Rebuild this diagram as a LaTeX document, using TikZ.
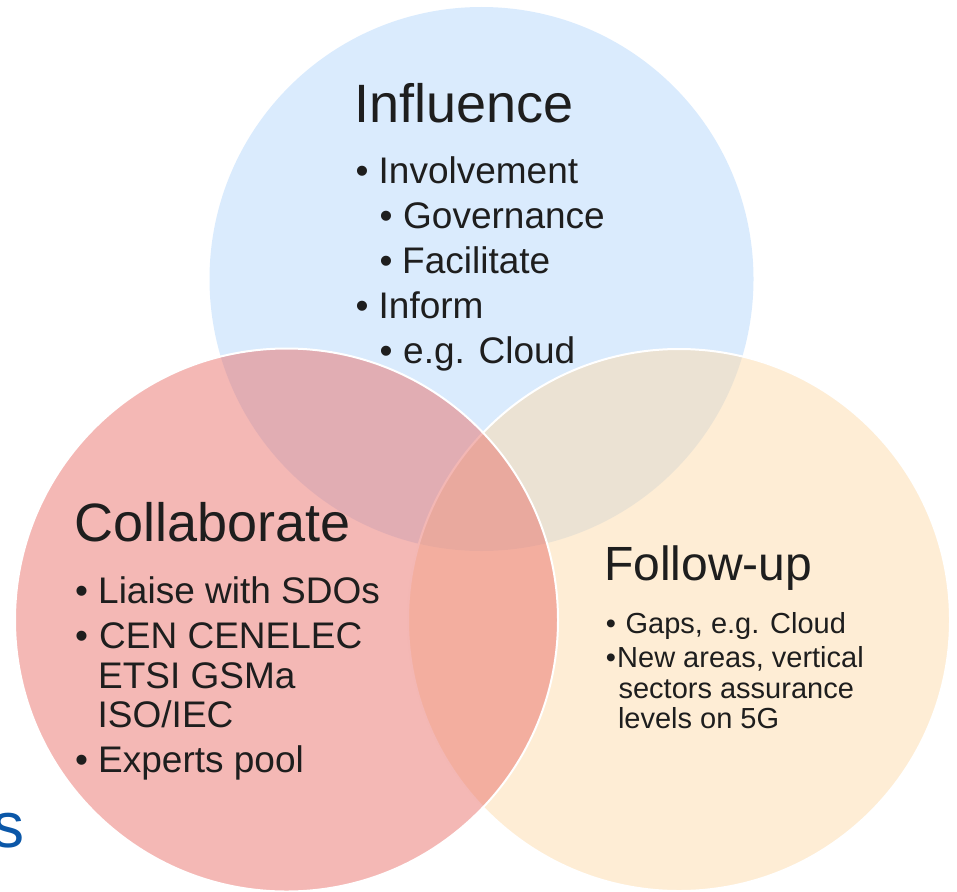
\documentclass[tikz,border=0pt]{standalone}
\usepackage{fontspec}
\setmainfont{Liberation Sans}
\definecolor{cblue}{HTML}{DAEBFD}
\definecolor{corange}{HTML}{FDDBAB}
\definecolor{cred}{HTML}{E9716B}
\definecolor{ctext}{HTML}{1E1E1E}
\definecolor{cs}{HTML}{0B57A8}
\begin{document}
\begin{tikzpicture}[x=1pt,y=-1pt,
  ttl/.style={anchor=base west,inner sep=0pt,text=ctext,font=\fontsize{54}{60}\selectfont},
  ttlb/.style={anchor=base west,inner sep=0pt,text=ctext,font=\fontsize{48}{54}\selectfont},
  txt/.style={anchor=base west,inner sep=0pt,text=ctext,font=\fontsize{37}{42}\selectfont},
  bul/.style={anchor=base,inner sep=0pt,text=ctext,font=\fontsize{37}{42}\selectfont},
  txts/.style={anchor=base west,inner sep=0pt,text=ctext,font=\fontsize{29}{33}\selectfont},
  buls/.style={anchor=base,inner sep=0pt,text=ctext,font=\fontsize{29}{33}\selectfont}]
\useasboundingbox (0,0) rectangle (957,891);
\clip (0,0) rectangle (957,891);
% circles
\fill[cblue] (481.5,279) circle[radius=272];
\fill[corange,fill opacity=0.5] (679,620) circle[radius=271];
\draw[white,line width=2pt] (679,620) circle[radius=271];
\fill[cred,fill opacity=0.5] (286.5,620) circle[radius=271.5];
\draw[white,line width=2pt] (286.5,620) circle[radius=271.5];
% cut-off text at left
\node[anchor=base west,inner sep=0pt,text=cs,font=\fontsize{64}{70}\selectfont] (s) at (-8,847) {s};
% Influence
\node[ttl] (inf) at (354,122) {Influence};
\node[bul] (ib1) at (362,183) {•};
\node[txt] (i1) at (378.5,183) {Involvement};
\node[bul] (ib2) at (386,228) {•};
\node[txt] (i2) at (403,228) {Governance};
\node[bul] (ib3) at (386,273) {•};
\node[txt] (i3) at (402,273) {Facilitate};
\node[bul] (ib4) at (362,318) {•};
\node[txt] (i4) at (378.5,318) {Inform};
\node[bul] (ib5) at (386,363) {•};
\node[txt] (i5) at (403,363) {e.g. Cloud};
% Collaborate
\node[ttl] (col) at (74,541.7) {Collaborate};
\node[bul] (cb1) at (81.5,603) {•};
\node[txt] (c1) at (98,603) {Liaise with SDOs};
\node[bul] (cb2) at (81.5,648) {•};
\node[txt] (c2) at (99,648) {CEN CENELEC};
\node[txt] (c3) at (98,688) {ETSI GSMa};
\node[txt] (c4) at (97.5,727) {ISO/IEC};
\node[bul] (cb3) at (81.5,772) {•};
\node[txt] (c5) at (98,772) {Experts pool};
% Follow-up
\node[ttlb] (fol) at (604,580) {Follow-up};
\node[buls] (fb1) at (611,633) {•};
\node[txts] (f1) at (625.4,633) {Gaps, e.g. Cloud};
\node[buls] (fb2) at (611,667) {•};
\node[txts] (f2) at (617,667) {New areas, vertical};
\node[txts] (f3) at (618.4,698) {sectors assurance};
\node[txts] (f4) at (617.8,728) {levels on 5G};
\end{tikzpicture}
\end{document}
